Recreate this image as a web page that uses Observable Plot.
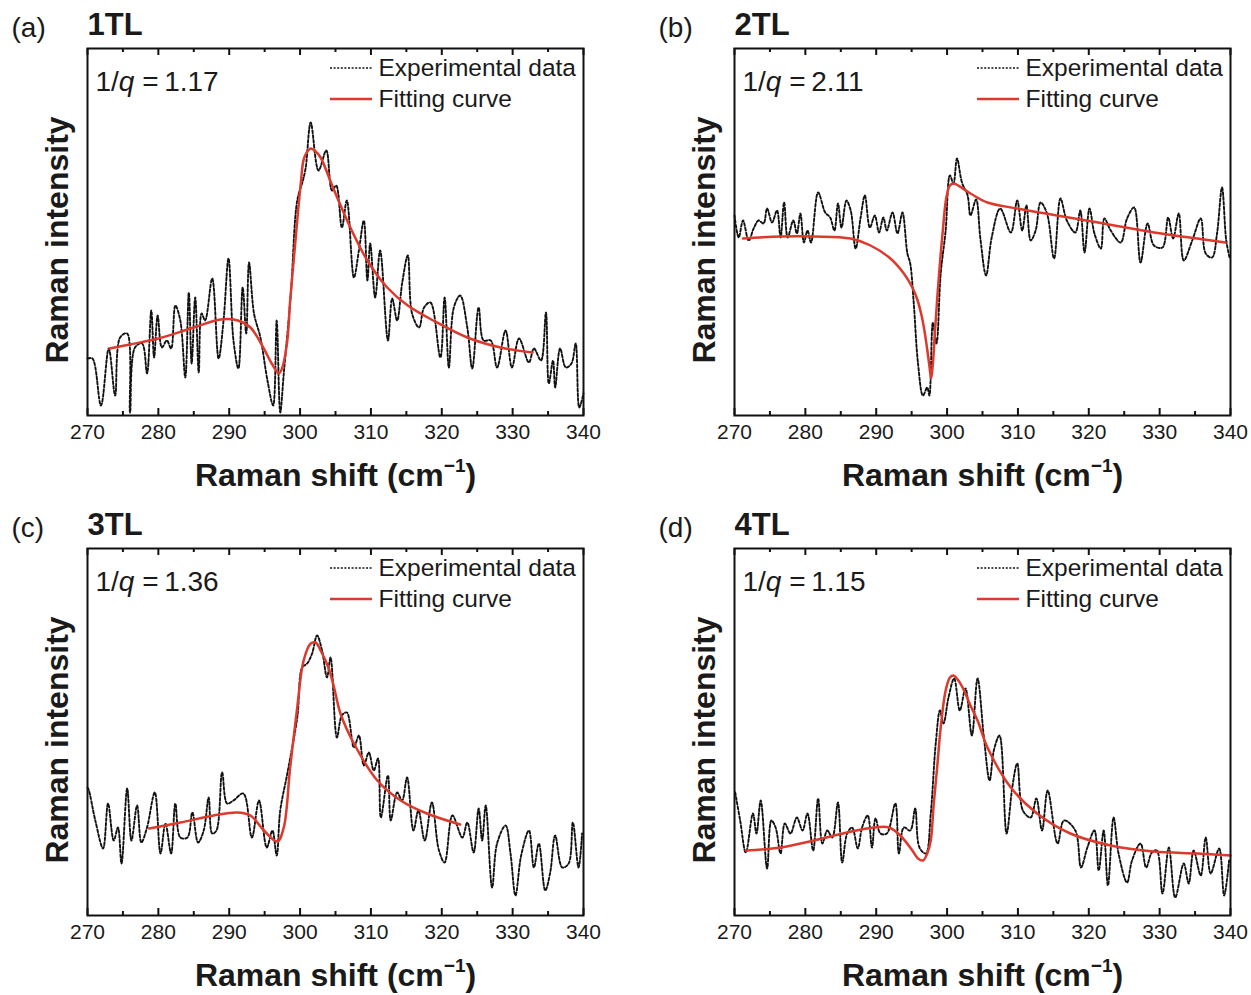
<!DOCTYPE html>
<html>
<head>
<meta charset="utf-8">
<script src="https://cdn.jsdelivr.net/npm/d3@7"></script>
<script src="https://cdn.jsdelivr.net/npm/@observablehq/plot@0.6"></script>
<style>
  body { margin: 0; background: #fff; }
  #wrap { position: relative; width: 1251px; height: 995px; overflow: hidden; background: #fff; }
  #wrap svg { position: absolute; }
</style>
</head>
<body>
<div id="wrap"></div>
<script>
// ---------- data (Raman shift in cm^-1, intensity in arbitrary units) ----------
const xTicks = [270, 280, 290, 300, 310, 320, 330, 340];
const xMinorTicks = [275, 285, 295, 305, 315, 325, 335];
const panelLabels = ["(a)", "(b)", "(c)", "(d)"];
const panelNames = ["1TL", "2TL", "3TL", "4TL"];
const invQ = ["1.17", "2.11", "1.36", "1.15"];
const legendLabels = ["Experimental data", "Fitting curve"];

// (a) 1TL
const expA_x = [270.0,270.7,271.9,273.0,273.9,274.6,275.6,276.0,276.7,277.7,278.4,279.0,279.4,279.9,280.5,281.2,281.8,282.4,283.1,283.8,284.3,284.7,285.2,285.7,286.1,286.6,287.6,288.5,289.2,289.9,290.6,291.3,291.9,292.4,292.8,293.5,294.4,295.4,296.2,296.7,297.2,297.7,298.7,299.6,300.4,300.8,301.5,302.6,303.7,304.5,305.1,305.9,306.6,307.6,308.3,309.0,309.5,309.9,310.6,311.3,312.4,313.0,313.7,314.4,315.2,315.8,316.8,317.5,318.4,319.8,320.4,321.0,321.7,322.6,323.6,324.3,325.2,325.9,326.9,327.8,329.0,329.9,330.9,332.3,333.0,334.0,334.7,335.1,335.7,336.0,336.7,337.5,338.3,338.9,339.4,340.0];
const expA_y = [57,57,10,67,20,78,82,3,68,72,42,105,58,100,68,75,67,110,95,38,123,52,118,43,102,95,137,57,95,157,75,47,128,82,153,102,78,35,10,95,3,42,122,215,235,248,293,245,265,225,230,188,215,138,165,195,135,172,118,165,75,117,95,132,160,102,88,108,113,58,118,48,108,120,88,47,108,75,75,48,85,48,77,53,67,55,103,32,55,28,67,48,52,72,8,22];
const fitA_x = [273.1,276.0,280.0,285.0,288.8,291.2,293.0,294.8,296.0,297.0,297.5,298.2,298.6,299.1,299.6,300.1,300.6,301.5,302.2,302.9,304.7,307.1,309.5,312.3,315.2,318.8,323.6,328.3,332.8];
const fitA_y = [67,71,77,88,96,95,88,68,52,42,48,75,115,155,195,232,258,267,264,258,227,188,155,128,110,95,78,68,63];

// (b) 2TL
const expB_x = [270.0,270.6,271.2,272.0,272.7,273.4,274.1,274.6,275.3,276.0,276.5,277.0,277.5,278.3,278.8,279.3,279.8,280.3,280.8,281.8,282.8,283.5,284.1,284.6,285.1,285.8,286.4,287.1,287.8,288.4,289.1,289.8,290.4,291.0,291.5,292.3,293.0,293.7,294.4,294.8,295.3,295.9,296.6,297.2,297.5,298.0,298.5,299.1,299.8,300.4,300.9,301.4,302.1,302.9,303.3,304.1,304.7,305.5,306.3,307.5,309.0,309.9,310.6,311.2,311.8,312.5,313.2,314.1,315.1,316.0,316.9,318.1,318.8,319.4,320.1,320.8,321.7,322.2,323.1,324.5,325.4,326.4,327.3,328.3,329.2,330.4,331.2,331.9,332.7,333.4,334.6,335.8,336.5,337.4,338.1,338.8,339.4,339.9];
const expB_y = [200,178,195,175,187,195,192,207,193,205,178,213,178,195,182,202,173,185,173,223,203,198,185,212,188,215,205,167,198,220,188,200,183,198,185,203,182,203,162,152,112,52,20,28,20,93,72,142,185,240,232,257,233,220,200,216,177,140,178,207,183,215,185,210,175,185,213,202,157,217,195,183,205,163,207,182,167,197,185,173,197,208,153,192,170,168,198,177,202,155,175,197,162,158,182,228,175,157];
const fitB_x = [271.2,276.5,281.2,286.4,289.2,292.0,293.9,295.1,295.8,296.4,296.8,297.2,297.5,297.75,298.0,298.3,298.8,299.4,299.9,300.4,300.9,303.3,305.7,309.9,315.5,322.1,329.2,335.3,339.3];
const fitB_y = [177,179,179,177,170,157,142,128,116,100,85,66,50,37,52,85,135,185,218,230,232,222,213,207,200,192,183,177,173];

// (c) 3TL
const expC_x = [270.0,270.2,271.1,272.2,272.9,273.7,274.3,274.8,275.6,276.2,277.0,277.6,278.4,279.5,280.3,281.0,281.8,282.4,283.1,284.1,284.8,285.6,286.4,287.1,287.6,288.2,289.0,289.7,290.6,292.0,293.2,294.2,295.3,296.1,296.7,297.2,298.2,299.6,300.3,301.0,301.7,302.4,303.1,303.8,304.3,305.2,305.9,306.6,307.6,308.3,309.0,309.7,310.4,311.0,311.4,312.4,312.8,313.7,314.4,315.1,316.0,316.7,317.6,318.6,319.6,320.4,321.5,322.9,323.6,324.5,325.2,325.7,326.2,327.1,327.8,329.0,329.7,330.4,331.2,332.3,333.0,333.7,334.6,335.3,336.0,337.0,337.9,338.5,339.3,339.8];
const expC_y = [128,125,95,67,112,75,88,52,127,75,110,73,88,123,62,92,62,112,78,78,103,73,85,118,82,85,143,112,115,122,78,115,68,85,60,105,142,198,248,252,262,280,265,238,258,178,200,203,168,180,150,163,145,157,98,140,95,123,115,138,85,105,75,113,65,53,100,78,93,63,107,75,110,28,72,90,62,20,60,85,48,72,25,43,80,48,52,93,48,82];
const fitC_x = [278.7,283.1,287.8,291.1,293.0,294.9,296.8,297.7,298.6,299.6,300.5,301.5,302.2,302.9,304.0,304.8,305.7,307.6,310.9,314.2,317.9,322.6];
const fitC_y = [87,93,100,103,100,85,74,88,148,208,255,272,273,265,248,228,202,172,135,115,102,91];

// (d) 4TL
const expD_x = [270.1,270.8,271.6,272.6,273.1,273.7,274.6,275.2,275.8,276.5,277.1,277.9,278.8,279.6,280.3,281.1,281.8,282.4,283.1,283.8,284.6,285.2,285.9,286.6,287.4,288.0,288.8,289.4,289.9,290.6,291.5,292.7,293.2,293.9,294.8,295.5,296.1,297.0,297.7,298.4,299.0,299.5,300.2,301.0,301.8,302.6,303.5,304.3,305.2,306.0,306.6,307.4,308.4,309.2,309.9,310.7,311.8,312.6,313.4,314.2,315.6,316.5,318.1,318.9,319.8,320.8,321.4,322.1,322.7,323.5,324.2,325.4,326.1,327.3,328.1,328.9,329.6,330.4,331.3,332.2,333.4,334.1,334.8,335.8,336.5,337.2,338.4,339.1,339.8];
const expD_y = [123,95,63,102,82,115,47,95,88,62,92,82,98,85,102,65,117,72,85,78,113,53,82,88,67,88,100,68,97,82,82,112,62,88,85,107,68,62,102,172,205,192,218,237,205,227,180,237,178,135,165,180,82,128,152,105,98,117,85,125,72,95,85,48,68,85,45,85,30,98,62,33,55,72,48,63,65,22,68,18,52,32,65,40,78,42,67,20,55];
const fitD_x = [271.6,276.5,281.2,285.9,289.7,291.8,293.4,295.1,295.9,296.6,297.2,297.7,298.1,298.6,299.1,299.8,300.4,300.9,301.6,302.4,303.3,304.3,305.7,309.0,312.7,317.4,323.1,329.2,335.3,340.0];
const fitD_y = [65,68,75,83,88,88,80,65,57,55,62,75,110,148,188,225,238,240,235,225,210,195,168,128,102,82,70,64,62,60];

const yMax = 367; // intensity axis extent (a.u.)

// ---------- layout ----------
const ML = 87, MT = 48, FW = 496, FH = 367, MB = 80;
const font = "'Liberation Sans', Arial, Helvetica, sans-serif";
const ink = "#1a1a1a";
const red = "#dc3a2c";
const panels = [
  {ex: expA_x, ey: expA_y, fx: fitA_x, fy: fitA_y, left: 0,   top: 0,   width: 625},
  {ex: expB_x, ey: expB_y, fx: fitB_x, fy: fitB_y, left: 647, top: 0,   width: 604},
  {ex: expC_x, ey: expC_y, fx: fitC_x, fy: fitC_y, left: 0,   top: 500, width: 625},
  {ex: expD_x, ey: expD_y, fx: fitD_x, fy: fitD_y, left: 647, top: 500, width: 604}
];

const wrap = document.getElementById("wrap");
const xTitle = "Raman shift (cm-1)";
const yTitle = "Raman intensity";

panels.forEach((p, i) => {
  const exp = p.ex.map((x, k) => ({x, y: p.ey[k]}));
  const fit = p.fx.map((x, k) => ({x, y: p.fy[k]}));
  const qText = "1/q = " + invQ[i];
  const t = d => d;
  const majorLen = 7, minorLen = 4;
  const txt = (s, o) => Plot.text([s], Object.assign({text: t, lineAnchor: "middle", fill: ink}, o));
  const svg = Plot.plot({
    width: p.width,
    height: MT + FH + MB,
    marginLeft: ML, marginTop: MT, marginBottom: MB,
    marginRight: p.width - ML - FW,
    style: {fontFamily: font, fontSize: "21px", color: ink, background: "transparent", overflow: "visible"},
    x: {domain: [270, 340], ticks: xTicks, tickSize: 0, tickPadding: 9, label: null, tickFormat: d => String(d)},
    y: {domain: [0, yMax], axis: null},
    marks: [
      Plot.line(exp, {x: "x", y: "y", stroke: "#111", strokeWidth: 1.9, strokeDasharray: "2.8,2", curve: "catmull-rom"}),
      Plot.line(fit, {x: "x", y: "y", stroke: red, strokeWidth: 2.5, curve: "catmull-rom"}),
      Plot.ruleX(xTicks, {x: t, y1: 0, y2: majorLen, stroke: "#111", strokeWidth: 2}),
      Plot.ruleX(xTicks, {x: t, y1: yMax - majorLen, y2: yMax, stroke: "#111", strokeWidth: 2}),
      Plot.ruleX(xMinorTicks, {x: t, y1: 0, y2: minorLen, stroke: "#111", strokeWidth: 2}),
      Plot.ruleX(xMinorTicks, {x: t, y1: yMax - minorLen, y2: yMax, stroke: "#111", strokeWidth: 2}),
      Plot.frame({stroke: "#111", strokeWidth: 2}),
      txt(panelLabels[i], {frameAnchor: "top-left", dx: -76, dy: -20, textAnchor: "start", fontSize: 28}),
      txt(panelNames[i], {frameAnchor: "top-left", dx: 0, dy: -23, textAnchor: "start", fontSize: 31, fontWeight: "bold"}),
      txt(qText, {frameAnchor: "top-left", dx: 8, dy: 34, textAnchor: "start", fontSize: 28}),
      txt(legendLabels[0], {frameAnchor: "top-left", dx: 291, dy: 20, textAnchor: "start", fontSize: 24.5}),
      txt(legendLabels[1], {frameAnchor: "top-left", dx: 291, dy: 51, textAnchor: "start", fontSize: 24.5}),
      txt(xTitle, {frameAnchor: "bottom", dy: 60, textAnchor: "middle", fontSize: 32, fontWeight: "bold"}),
      txt(yTitle, {frameAnchor: "left", dx: -30, dy: 8, rotate: -90, textAnchor: "middle", fontSize: 32, fontWeight: "bold"})
    ]
  });
  svg.style.left = p.left + "px";
  svg.style.top = p.top + "px";
  const s = d3.select(svg);
  s.selectAll("text").each(function () {
    const el = d3.select(this);
    const content = this.textContent;
    if (content === qText) {
      el.text(null);
      el.append("tspan").text("1/");
      el.append("tspan").attr("font-style", "italic").text("q");
      el.append("tspan").text(" =\u2009" + invQ[i]);
    } else if (content === xTitle) {
      el.text(null);
      el.append("tspan").text("Raman shift (cm");
      el.append("tspan").attr("dy", -14).attr("font-size", 19).text("\u22121");
      el.append("tspan").attr("dy", 14).text(")");
    }
  });
  // legend swatches
  const g = s.append("g");
  g.append("line").attr("x1", ML + 243).attr("x2", ML + 285).attr("y1", MT + 20).attr("y2", MT + 20)
    .attr("stroke", "#111").attr("stroke-width", 1.4).attr("stroke-dasharray", "2,1.6");
  g.append("line").attr("x1", ML + 243).attr("x2", ML + 285).attr("y1", MT + 51).attr("y2", MT + 51)
    .attr("stroke", red).attr("stroke-width", 2.5);
  wrap.appendChild(svg);
});
</script>
</body>
</html>
